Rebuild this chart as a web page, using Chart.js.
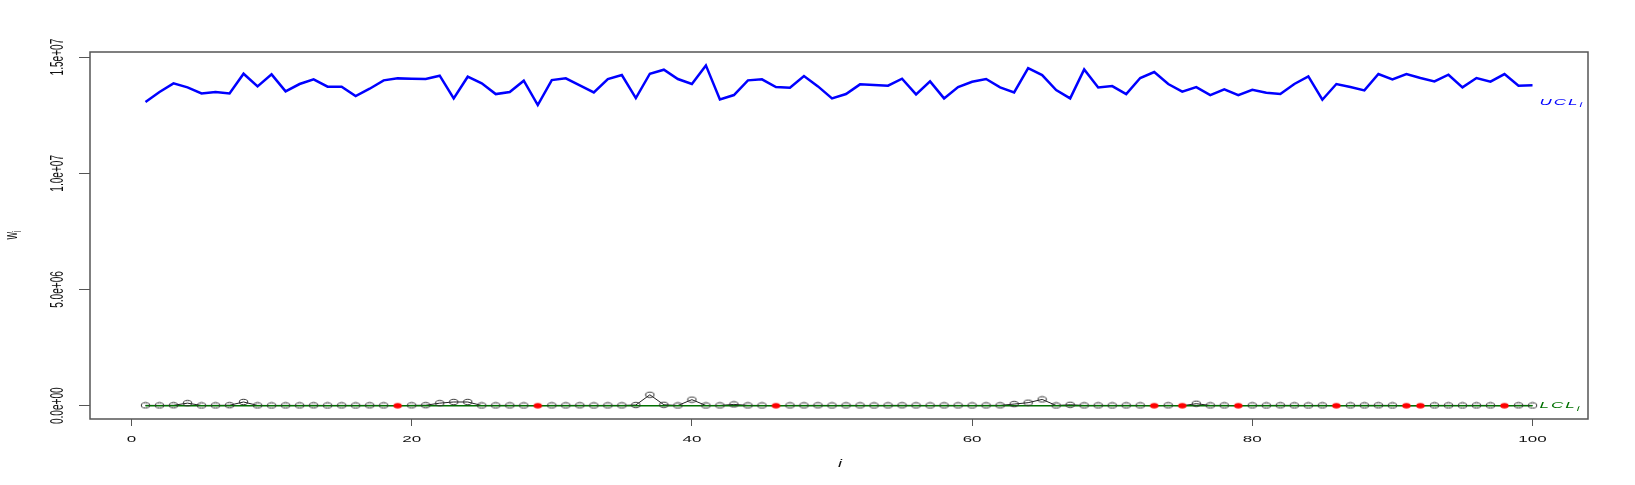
<!DOCTYPE html>
<html>
<head>
<meta charset="utf-8">
<script src="https://cdn.jsdelivr.net/npm/chart.js@4.4.1/dist/chart.umd.min.js"></script>
<style>
  html, body { margin: 0; padding: 0; background: #fff; }
</style>
</head>
<body>
<canvas id="wChart" width="1635" height="485"></canvas>
<script>
  // sample index i = 1..100
  const idx = Array.from({ length: 100 }, (_, k) => k + 1);

  // w_i statistic (close to zero, a few bumps)
  const wValues = [
    15000, 12000, 18000, 110000, 10000, 14000, 20000, 160000, 12000, 10000,
    14000, 12000, 16000, 10000, 13000, 11000, 15000, 12000, 0, 15000,
    20000, 110000, 160000, 160000, 10000, 12000, 14000, 11000, 0, 13000,
    12000, 15000, 10000, 14000, 12000, 30000, 470000, 40000, 10000, 260000,
    10000, 12000, 57000, 14000, 11000, 0, 13000, 12000, 15000, 10000,
    14000, 12000, 11000, 13000, 15000, 12000, 10000, 14000, 12000, 11000,
    13000, 15000, 70000, 130000, 270000, 10000, 40000, 12000, 14000, 11000,
    13000, 12000, 0, 15000, 0, 86000, 12000, 14000, 0, 13000,
    11000, 15000, 12000, 10000, 14000, 0, 12000, 13000, 15000, 11000,
    0, 0, 12000, 14000, 10000, 13000, 12000, 0, 15000, 11000
  ];
  // points flagged in red
  const outIdx = [19, 29, 46, 73, 75, 79, 86, 91, 92, 98];

  // upper control limit
  const uclValues = [
    1.3068e7, 1.3498e7, 1.3870e7, 1.3697e7, 1.3439e7, 1.3498e7, 1.3439e7, 1.4286e7, 1.3740e7, 1.4257e7,
    1.3525e7, 1.3842e7, 1.4042e7, 1.3726e7, 1.3726e7, 1.3325e7, 1.3640e7, 1.3999e7, 1.4085e7, 1.4070e7,
    1.4056e7, 1.4200e7, 1.3224e7, 1.4157e7, 1.3870e7, 1.3410e7, 1.3498e7, 1.3984e7, 1.2937e7, 1.4013e7,
    1.4085e7, 1.3784e7, 1.3483e7, 1.4056e7, 1.4228e7, 1.3238e7, 1.4286e7, 1.4458e7, 1.4056e7, 1.3842e7,
    1.4644e7, 1.3180e7, 1.3367e7, 1.3999e7, 1.4042e7, 1.3712e7, 1.3683e7, 1.4185e7, 1.3740e7, 1.3224e7,
    1.3410e7, 1.3827e7, 1.3798e7, 1.3770e7, 1.4070e7, 1.3396e7, 1.3956e7, 1.3224e7, 1.3712e7, 1.3941e7,
    1.4056e7, 1.3697e7, 1.3483e7, 1.4530e7, 1.4228e7, 1.3584e7, 1.3224e7, 1.4472e7, 1.3697e7, 1.3755e7,
    1.3410e7, 1.4100e7, 1.4358e7, 1.3842e7, 1.3511e7, 1.3712e7, 1.3367e7, 1.3612e7, 1.3367e7, 1.3597e7,
    1.3468e7, 1.3410e7, 1.3842e7, 1.4170e7, 1.3167e7, 1.3842e7, 1.3712e7, 1.3568e7, 1.4271e7, 1.4042e7,
    1.4271e7, 1.4100e7, 1.3956e7, 1.4243e7, 1.3697e7, 1.4100e7, 1.3942e7, 1.4271e7, 1.3770e7, 1.3784e7
  ];
  // lower control limit
  const lclValue = 0;

  const xTicks = [0, 20, 40, 60, 80, 100];
  const yTicks = [0, 5e6, 1e7, 1.5e7];
  const yTickLabels = ['0.0e+00', '5.0e+06', '1.0e+07', '1.5e+07'];

  const SQ = 0.58; // the reference text is squashed vertically
  const FONT = '"Liberation Sans", Arial, sans-serif';

  function ellipse(fill, stroke) {
    const c = document.createElement('canvas');
    c.width = 11; c.height = 8;
    const g = c.getContext('2d');
    g.beginPath();
    g.ellipse(5.5, 4, 4.2, 2.7, 0, 0, 2 * Math.PI);
    if (fill) { g.fillStyle = fill; g.fill(); }
    if (stroke) { g.strokeStyle = stroke; g.lineWidth = 1; g.stroke(); }
    return c;
  }
  const openPt = ellipse(null, '#333');
  const redPt = ellipse('#ff0000', null);

  function squashed(ctx, parts, px, py, rot, color, align, sq, spacing) {
    ctx.save();
    ctx.translate(px, py);
    const s = sq || SQ;
    if (rot) { ctx.rotate(rot); ctx.scale(s, 1); } else { ctx.scale(1, s); }
    ctx.fillStyle = color;
    ctx.textBaseline = 'middle';
    ctx.textAlign = 'left';
    if (spacing) ctx.letterSpacing = spacing;
    let total = 0;
    parts.forEach(p => { ctx.font = p.font; total += ctx.measureText(p.t).width; });
    let cx = align === 'center' ? -total / 2 : 0;
    parts.forEach(p => {
      ctx.font = p.font;
      ctx.fillText(p.t, cx, p.dy || 0);
      cx += ctx.measureText(p.t).width;
    });
    ctx.restore();
  }

  const rText = {
    id: 'rText',
    afterDraw(chart) {
      const { ctx, chartArea: a, scales: { x, y } } = chart;
      ctx.save();
      ctx.strokeStyle = '#555';
      ctx.lineWidth = 1.5;
      ctx.strokeRect(a.left, a.top, a.right - a.left, a.bottom - a.top);
      ctx.restore();

      xTicks.forEach(v => {
        squashed(ctx, [{ t: String(v), font: '17px ' + FONT }], x.getPixelForValue(v), 439, 0, '#111', 'center');
      });
      yTicks.forEach((v, k) => {
        squashed(ctx, [{ t: yTickLabels[k], font: '19px ' + FONT }], 58, y.getPixelForValue(v), -Math.PI / 2, '#111', 'center', 0.53);
      });
      // axis titles
      squashed(ctx, [{ t: 'i', font: 'italic 18px ' + FONT }], 840, 464, 0, '#111', 'center');
      squashed(ctx, [{ t: 'w', font: '19px ' + FONT }, { t: 'i', font: '13px ' + FONT, dy: 5 }],
        12, 235, -Math.PI / 2, '#111', 'center', 0.55);
      // limit labels
      const lx = x.getPixelForValue(100) + 7;
      squashed(ctx, [{ t: 'UCL', font: 'italic 17px ' + FONT }, { t: 'i', font: 'italic 12px ' + FONT, dy: 5 }],
        lx, y.getPixelForValue(uclValues[0]), 0, '#0000ff', 'left', SQ, '2px');
      squashed(ctx, [{ t: 'LCL', font: 'italic 17px ' + FONT }, { t: 'i', font: 'italic 12px ' + FONT, dy: 5 }],
        lx, y.getPixelForValue(lclValue), 0, '#007000', 'left', SQ, '2px');
    }
  };

  const wPts = idx.map((v, k) => ({ x: v, y: wValues[k] }));

  new Chart(document.getElementById('wChart').getContext('2d'), {
    type: 'line',
    data: {
      datasets: [
        {
          label: 'UCL',
          data: idx.map((v, k) => ({ x: v, y: uclValues[k] })),
          borderColor: '#0000ff',
          borderWidth: 2.5,
          pointRadius: 0,
          order: 4
        },
        {
          label: 'w line',
          data: wPts,
          borderColor: '#222',
          borderWidth: 1,
          pointRadius: 0,
          order: 3
        },
        {
          label: 'LCL',
          data: [{ x: idx[0], y: lclValue }, { x: idx[idx.length - 1], y: lclValue }],
          borderColor: '#007000',
          borderWidth: 1.6,
          pointRadius: 0,
          order: 2
        },
        {
          label: 'w',
          data: wPts,
          showLine: false,
          pointStyle: ctx => outIdx.includes(idx[ctx.dataIndex]) ? redPt : openPt,
          pointRadius: 4,
          order: 1
        }
      ]
    },
    options: {
      responsive: false,
      animation: false,
      devicePixelRatio: 1,
      layout: { padding: { top: 52, right: 47, left: 0, bottom: 0 } },
      plugins: { legend: { display: false }, tooltip: { enabled: false } },
      scales: {
        x: {
          type: 'linear',
          min: -2.96,
          max: 103.96,
          afterBuildTicks: s => { s.ticks = xTicks.map(v => ({ value: v })); },
          afterFit: s => { s.height = 66; },
          ticks: { display: false },
          border: { display: false },
          grid: { drawOnChartArea: false, drawTicks: true, tickLength: 7, color: '#555' }
        },
        y: {
          type: 'linear',
          min: -5.72e5,
          max: 1.522e7,
          afterBuildTicks: s => { s.ticks = yTicks.map(v => ({ value: v })); },
          afterFit: s => { s.width = 90; },
          ticks: { display: false },
          border: { display: false },
          grid: { drawOnChartArea: false, drawTicks: true, tickLength: 11, color: '#555' }
        }
      }
    },
    plugins: [rText]
  });
</script>
</body>
</html>
